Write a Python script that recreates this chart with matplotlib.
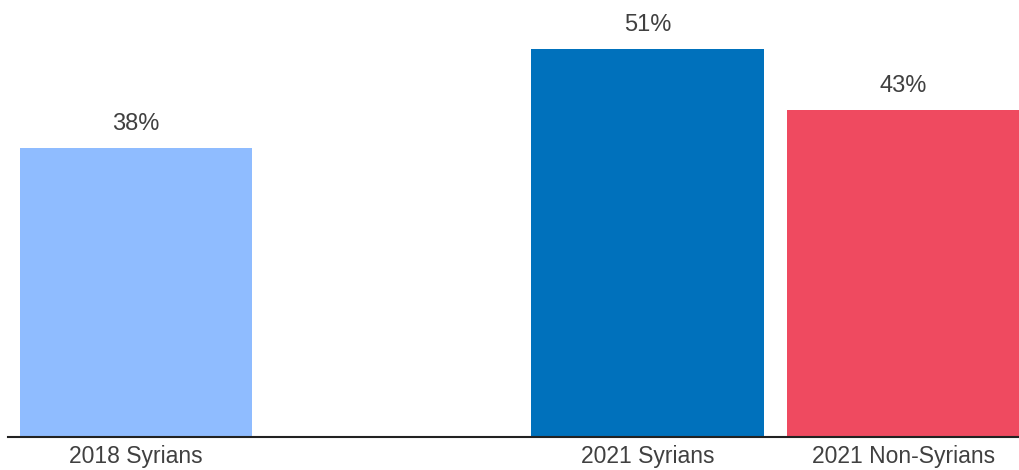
import matplotlib.pyplot as plt

# data
labels = ["2018 Syrians", "", "2021 Syrians", "2021 Non-Syrians"]
values = [38, None, 51, 43]
colors = ["#8fbcff", None, "#0071bc", "#ef4a60"]

plt.rcParams["font.family"] = ["Liberation Sans", "DejaVu Sans"]

fig = plt.figure(figsize=(10.2, 4.7), dpi=100)
ax = fig.add_axes([8 / 1020, 33 / 470, 1012 / 1020, 437 / 470])

xs = range(len(labels))
for x, v, c in zip(xs, values, colors):
    if v is None:
        continue
    ax.bar(x, v, width=0.91, color=c)
    ax.annotate(f"{v}%", (x, v), xytext=(0, 9), textcoords="offset points",
                ha="center", va="bottom", fontsize=17, color="#404040")

ax.set_xlim(-0.5, 3.455)
ax.set_ylim(0, 57.4)
ax.set_xticks([0, 2, 3])
ax.set_xticklabels([labels[0], labels[2], labels[3]], fontsize=16.5, color="#404040")
ax.tick_params(axis="x", length=0, pad=6)
ax.set_yticks([])
for s in ["top", "right", "left"]:
    ax.spines[s].set_visible(False)
ax.spines["bottom"].set_color("#222222")
ax.spines["bottom"].set_linewidth(1.5)

fig.savefig("out.png", dpi=100)
